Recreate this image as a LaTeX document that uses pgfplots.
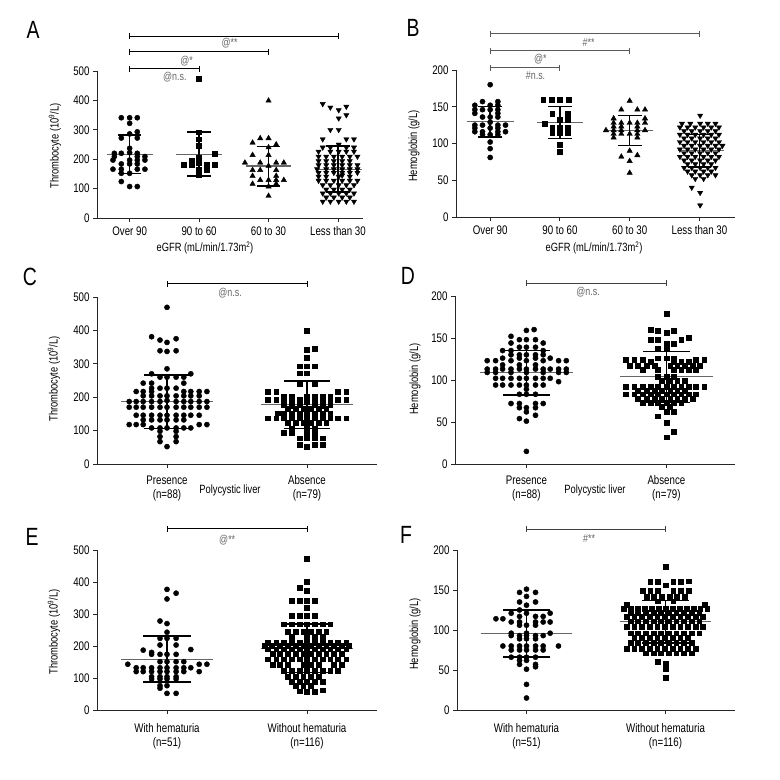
\documentclass[border=0pt]{standalone}
\usepackage{fontspec}
\setmainfont{Liberation Sans}[FakeStretch=0.78]
\usepackage{pgfplots}
\pgfplotsset{compat=1.18}
\pgfplotsset{
  panel/.style={scale only axis, anchor=south west, axis lines=left, clip=false,
    axis line style={-, line width=0.9bp, black!85},
    tick align=outside, major tick length=4bp,
    every tick/.style={black!85, line width=0.9bp},
    tick label style={font=\fontsize{12.5}{14}\selectfont},
    /pgf/number format/assume math mode=true,
    xticklabel style={align=center}, minor tick num=0},
  dotc/.style={only marks, mark=*, mark size=2.6bp, black},
  dots/.style={only marks, mark=square*, mark size=2.4bp, black},
  dott/.style={only marks, mark=triangle*, mark size=3.1bp, black},
  dotv/.style={only marks, mark=triangle*, mark size=3bp, black, mark options={rotate=180}},
  meanl/.style={black!60, line width=1.1bp, mark=none},
  sdl/.style={black, line width=1.5bp, mark=none},
  brk/.style={line width=1bp, mark=|, mark size=3bp, mark options={solid}},
}
\tikzset{sig/.style={font=\fontsize{11.5}{13}\selectfont, text=black!60},
  lab/.style={font=\fontsize{12}{14}\selectfont},
  let/.style={font=\fontsize{25}{27}\selectfont}}
\begin{document}
\begin{tikzpicture}
\useasboundingbox (0,0) rectangle (780bp,780bp);
% ---------------- A ----------------
\begin{axis}[panel, at={(97bp,562bp)}, width=266bp, height=147bp,
  xmin=-0.47, xmax=3.36, ymin=0, ymax=500, ytick={0,100,...,500},
  xtick={0,1,2,3}, xticklabels={Over 90,90 to 60,60 to 30,Less than 30},
  xticklabel style={yshift=-1bp}]
\addplot[dotc] coordinates {(-0.12,341)(0,341)(0.11,341)(0,322)(0.11,293)(0,286)(-0.12,272)(0.11,272)(0,237)
(-0.22,220)(-0.12,220)(0,222)(0.11,220)(-0.22,209)(0.11,209)(0.22,209)(-0.24,197)(0,197)(0.11,197)(0.22,197)
(-0.12,184)(0,184)(0.11,184)(-0.24,166)(-0.12,166)(0.11,166)(0.22,166)(-0.12,152)(0,152)(-0.12,124)(0,107)(0.11,107)};
\addplot[dots] coordinates {(1,473)(1,292)(1,268)(1,245)(1.22,218)(1,205)(0.78,180)(0.89,180)(1,188)(1.11,180)(1.22,180)(1,163)(1.11,163)(1,146)(0.89,195)};
\addplot[dott] coordinates {(2,399)(1.88,271)(2,271)(1.77,256)(2.11,250)(2,240)(1.77,214)(2,214)(1.66,188)(1.88,188)(2.11,188)(2.22,188)
(2,177)(1.77,163)(1.88,163)(2.11,163)(1.77,143)(2.11,143)(1.88,129)(2,129)(2.11,129)(1.77,116)(2.11,116)(2,107)(2.22,129)(2,75)};
\addplot[dotv] coordinates {(2.78,388)(2.89,376)(3.01,367)(3.12,379)(3.01,339)(3.12,350)(2.89,300)(3.01,300)
(2.78,268)(3.12,268)(3.23,268)(3.01,250)(2.78,240)(2.89,240)(3.12,240)(3.23,240)
(2.72,226)(2.89,226)(3.01,226)(3.12,226)(3.23,226)
(2.72,209)(2.83,209)(2.94,209)(3.06,209)(3.17,209)(3.28,209)
(2.72,194)(2.83,194)(2.94,194)(3.06,194)(3.17,194)
(2.72,180)(2.83,180)(2.94,180)(3.06,180)(3.17,180)(3.28,180)
(2.70,166)(2.83,166)(2.94,166)(3.06,166)(3.17,166)(3.28,166)
(2.72,154)(2.83,154)(2.94,154)(3.06,154)(3.17,154)(3.28,154)
(2.72,141)(2.83,141)(3.01,141)(3.06,145)(3.17,141)
(2.72,127)(2.83,127)(2.94,127)(3.06,127)(3.17,127)(3.28,127)
(2.78,112)(2.89,112)(3.01,112)(3.12,112)(3.23,112)
(2.83,97)(2.94,97)(3.06,97)(3.17,97)
(2.78,84)(2.89,84)(3.01,84)(3.12,84)(3.23,84)
(2.83,70)(2.94,70)(3.06,70)(3.17,70)
(2.78,56)(2.89,56)(3.01,56)(3.12,56)(3.23,56)};
\addplot[meanl] coordinates {(-0.33,216)(0.34,216)};
\addplot[meanl] coordinates {(0.67,216)(1.33,216)};
\addplot[meanl] coordinates {(1.67,177)(2.33,177)};
\addplot[meanl] coordinates {(2.67,166)(3.34,166)};
\addplot[sdl] coordinates {(-0.17,152)(0.17,152)};
\addplot[sdl] coordinates {(0,152)(0,282)};
\addplot[sdl] coordinates {(-0.17,282)(0.17,282)};
\addplot[sdl] coordinates {(0.83,142)(1.17,142)};
\addplot[sdl] coordinates {(1,142)(1,293)};
\addplot[sdl] coordinates {(0.83,293)(1.17,293)};
\addplot[sdl] coordinates {(1.83,109)(2.17,109)};
\addplot[sdl] coordinates {(2,109)(2,243)};
\addplot[sdl] coordinates {(1.83,243)(2.17,243)};
\addplot[sdl] coordinates {(2.83,88)(3.17,88)};
\addplot[sdl] coordinates {(3,88)(3,245)};
\addplot[sdl] coordinates {(2.83,245)(3.17,245)};
\addplot[brk, black] coordinates {(0,619)(3,619)};
\addplot[brk, black] coordinates {(0,565)(2,565)};
\addplot[brk, black] coordinates {(0,507)(1,507)};
\node[sig] at (axis cs:1.44,594) {@**};
\node[sig] at (axis cs:0.82,533) {@*};
\node[sig] at (axis cs:0.65,480) {@n.s.};
\end{axis}
% ---------------- B ----------------
\begin{axis}[panel, at={(456bp,563bp)}, width=279bp, height=147bp,
  xmin=-0.49, xmax=3.51, ymin=0, ymax=200, ytick={0,50,...,200},
  xtick={0,1,2,3}, xticklabels={Over 90,90 to 60,60 to 30,Less than 30},
  xticklabel style={yshift=-1bp}]
\addplot[dotc] coordinates {(0,180)(-0.11,157)(0.11,157)(-0.22,152)(0,152)(0.11,152)(-0.22,146)(-0.11,146)(0,146)(0.11,146)
(-0.22,141)(0.11,141)(-0.11,136)(0,136)(0.11,136)(0,129)(-0.22,125)(-0.11,125)(0.11,125)(0.22,125)
(-0.22,121)(0,121)(0.11,121)(-0.22,116)(-0.11,116)(0.11,116)(0.22,116)(-0.11,112)(0,112)(0.11,112)(0,102)(0,93)(0,81)};
\addplot[dots] coordinates {(0.76,160)(0.88,160)(1,160)(1.12,160)(0.89,141)(1.11,141)(1,132)(1.11,132)(0.78,127)
(0.89,121)(1,121)(1.11,121)(0.89,115)(1,115)(1.11,115)(1,98)(1,89)};
\addplot[dott] coordinates {(2,158)(1.88,146)(2.11,146)(2.22,146)(1.77,134)(2.22,134)(1.77,128)(1.88,128)(2,128)(2.11,128)(2.22,128)
(1.77,123)(1.88,123)(2.11,123)(1.66,118)(1.77,118)(1.88,118)(2.11,118)(2.22,118)(1.77,113)(1.88,113)(2,113)(2.11,113)
(1.77,108)(2.11,108)(2,90)(1.88,82)(2.11,84)(2,76)(2,60)};
\addplot[dotv] coordinates {(3.01,138)
(2.75,127)(2.87,127)(3.01,127)(3.12,127)(3.23,127)
(2.72,122)(2.83,122)(2.94,122)(3.06,122)(3.17,122)(3.28,122)
(2.78,117)(2.89,117)(3.01,117)(3.12,117)(3.23,117)
(2.72,112)(2.83,112)(2.94,112)(3.06,112)(3.17,112)(3.28,112)
(2.78,107)(2.89,107)(3.01,107)(3.12,107)(3.23,107)
(2.72,102)(2.83,102)(2.94,102)(3.06,102)(3.17,102)(3.28,102)
(2.78,97)(2.89,97)(3.01,97)(3.12,97)(3.23,97)(3.33,97)
(2.72,92)(2.83,92)(2.94,92)(3.06,92)(3.17,92)(3.28,92)
(2.78,87)(2.89,87)(3.01,87)(3.12,87)(3.23,87)
(2.72,82)(2.83,82)(2.94,82)(3.06,82)(3.17,82)(3.28,82)
(2.78,77)(2.89,77)(3.01,77)(3.12,77)(3.23,77)
(2.83,72)(2.94,72)(3.06,72)(3.17,72)
(2.78,67)(2.89,67)(3.01,67)(3.12,67)(3.23,67)
(2.83,62)(2.94,62)(3.06,62)(3.17,62)
(2.89,57)(3.01,57)(3.12,57)(3.23,57)
(2.94,52)(3.06,52)(2.89,40)(3.01,33)(3.01,16)};
\addplot[meanl] coordinates {(-0.33,130)(0.34,130)};
\addplot[meanl] coordinates {(0.67,128)(1.33,128)};
\addplot[meanl] coordinates {(1.67,118)(2.33,118)};
\addplot[meanl] coordinates {(2.69,90)(3.35,90)};
\addplot[sdl] coordinates {(-0.17,109)(0.17,109)};
\addplot[sdl] coordinates {(0,109)(0,150)};
\addplot[sdl] coordinates {(-0.17,150)(0.17,150)};
\addplot[sdl] coordinates {(0.83,107)(1.17,107)};
\addplot[sdl] coordinates {(1,107)(1,150)};
\addplot[sdl] coordinates {(0.83,150)(1.17,150)};
\addplot[sdl] coordinates {(1.83,97)(2.17,97)};
\addplot[sdl] coordinates {(2,97)(2,138)};
\addplot[sdl] coordinates {(1.83,138)(2.17,138)};
\addplot[sdl] coordinates {(2.83,68)(3.17,68)};
\addplot[sdl] coordinates {(3,68)(3,112)};
\addplot[sdl] coordinates {(2.83,112)(3.17,112)};
\addplot[brk, black!65] coordinates {(0,249)(3,249)};
\addplot[brk, black!65] coordinates {(0,226)(2,226)};
\addplot[brk, black!65] coordinates {(0,203)(1,203)};
\node[sig] at (axis cs:1.41,238) {\#**};
\node[sig] at (axis cs:0.72,215) {@*};
\node[sig] at (axis cs:0.65,192) {\#n.s.};
\end{axis}
% ---------------- C ----------------
\begin{axis}[panel, at={(97bp,316bp)}, width=280bp, height=167bp,
  xmin=-0.5, xmax=1.5, ymin=0, ymax=500, ytick={0,100,...,500},
  xtick={0,1}, xticklabels={{Presence\\(n=88)},{Absence\\(n=79)}},
  xticklabel style={yshift=-4bp}]
\addplot[dotc] coordinates {(0,469)(-0.11,381)(-0.05,371)(0,364)(0.065,375)(-0.05,339)(0,337)(0.065,339)(0,285)
(-0.11,270)(0.17,270)(-0.05,260)(0,260)(0.065,260)(0.12,260)(-0.17,242)(-0.11,242)(0.12,242)
(-0.11,227)(-0.05,227)(0,227)(0.065,227)
(-0.22,217)(-0.17,217)(-0.11,217)(0.12,217)(0.17,217)(0.23,217)(0.285,217)
(-0.17,204)(-0.11,204)(-0.05,204)(0,204)(0.065,204)(0.12,204)(0.17,204)(0.23,204)
(-0.27,187)(-0.22,187)(-0.17,187)(-0.11,187)(-0.05,187)(0,190)(0.065,187)(0.12,187)(0.17,187)(0.23,187)(0.285,187)
(-0.27,170)(-0.22,170)(-0.17,170)(-0.11,170)(-0.05,170)(0,170)(0.065,170)(0.12,170)(0.17,170)(0.23,170)(0.285,170)
(-0.22,146)(-0.17,146)(-0.11,146)(-0.05,146)(0,146)(0.065,146)(0.12,146)(0.17,146)(0.23,146)
(-0.17,132)(-0.11,132)(-0.05,132)(0,132)(0.065,132)(0.12,132)
(-0.27,118)(-0.22,118)(-0.17,118)(0.23,118)(0.285,118)
(-0.11,108)(-0.05,108)(0,108)(0.065,108)(0.12,108)(0.17,108)
(-0.05,98)(0.065,98)(-0.05,82)(0.065,82)(-0.05,67)(0.065,67)(0,52)};
\addplot[dots] coordinates {(1,399)(1,343)(1.055,346)(1,318)(0.945,293)(1,293)(1.055,293)(0.945,272)(1,272)(0.945,239)(1.055,239)
(0.72,217)(0.78,217)(1.22,217)(1.28,217)
(0.835,201)(0.89,201)(1,201)(1.055,201)(1.11,201)(1.165,201)
(0.72,192)(0.78,192)(0.835,192)(0.89,186)(0.945,192)(1,186)(1.055,192)(1.11,186)(1.165,192)(1.22,192)(1.28,192)
(0.835,178)(0.89,174)(0.945,178)(1.055,178)(1.11,174)(1.165,178)
(0.8625,165)(0.9175,165)(0.9725,165)(1.0275,165)(1.0825,165)(1.1375,165)
(0.79,152)(0.835,152)(0.89,152)(0.945,152)(1,152)(1.055,152)(1.11,152)(1.165,152)
(0.72,137)(0.78,137)(0.835,137)(0.89,137)(0.945,137)(1,137)(1.055,137)(1.11,137)(1.165,137)(1.22,137)(1.28,137)
(0.8625,124)(0.9175,124)(0.9725,124)(1.0275,124)(1.0825,124)(1.1375,124)
(0.89,106)(1,106)(1.055,106)(0.835,94)(0.89,94)(1,94)(1.055,94)
(0.945,77)(1,77)(1.055,77)(1.11,77)(0.945,57)(1,52)(1.055,57)(1.11,57)};
\addplot[meanl] coordinates {(-0.33,187)(0.33,187)};
\addplot[meanl] coordinates {(0.67,179)(1.33,179)};
\addplot[sdl] coordinates {(-0.165,106)(0.165,106)};
\addplot[sdl] coordinates {(0,106)(0,267)};
\addplot[sdl] coordinates {(-0.165,267)(0.165,267)};
\addplot[sdl] coordinates {(0.835,107)(1.165,107)};
\addplot[sdl] coordinates {(1,107)(1,249)};
\addplot[sdl] coordinates {(0.835,249)(1.165,249)};
\addplot[brk, black] coordinates {(0,539)(1,539)};
\node[sig] at (axis cs:0.45,511) {@n.s.};
\end{axis}
% ---------------- D ----------------
\begin{axis}[panel, at={(455bp,316bp)}, width=280bp, height=168bp,
  xmin=-0.51, xmax=1.49, ymin=0, ymax=200, ytick={0,50,...,200},
  xtick={0,1}, xticklabels={{Presence\\(n=88)},{Absence\\(n=79)}},
  xticklabel style={yshift=-4bp}]
\addplot[dotc] coordinates {(0,159)(0.055,160)(-0.11,152)(-0.05,148)(0,148)(0.065,148)(-0.11,144)(0.12,144)
(-0.05,139)(0,139)(0.065,139)(-0.17,135)(-0.11,135)(0.12,135)
(-0.11,130)(-0.05,130)(0,130)(0.065,130)(0.12,130)
(-0.17,126)(-0.05,126)(0.065,126)(0.17,126)
(-0.28,123)(-0.22,123)(-0.11,123)(0,123)(0.12,123)(0.23,123)(0.285,123)
(-0.17,118)(-0.05,118)(0.065,118)
(-0.28,113)(-0.22,113)(-0.17,113)(-0.11,113)(-0.05,113)(0,113)(0.065,113)(0.12,113)(0.17,113)(0.23,113)(0.285,113)
(-0.28,109)(-0.22,109)(-0.11,109)(0,109)(0.12,109)(0.23,109)(0.285,109)
(-0.22,102)(-0.17,102)(-0.11,102)(-0.05,102)(0,102)(0.065,102)(0.12,102)(0.17,102)
(0.23,98)(-0.22,94)(-0.17,94)(-0.11,94)(-0.05,94)(0,94)(0.065,94)(0.12,94)
(0,89)(-0.05,83)(0,83)(0.065,83)(-0.11,72)(-0.05,72)(0.065,72)(0.12,72)
(-0.05,67)(0,67)(0.065,67)(0,62)(0.065,58)(-0.05,54)(0,51)(0,15)};
\addplot[dots] coordinates {(1,179)(0.89,160)(0.94,159)(1.05,159)(1,156)(0.89,148)(0.94,148)(1.105,148)(1.16,150)
(1,143)(1.05,143)(0.94,137)(1,137)(0.94,126)(1,126)(1.05,126)
(0.71,124)(0.77,124)(0.83,124)(0.89,122)(1.05,122)(1.105,122)(1.16,122)(1.21,124)(1.27,124)
(0.7375,117)(0.7975,117)(0.8575,117)(0.9175,117)(1.0275,117)(1.0775,117)(1.1325,117)(1.1875,117)(1.2375,117)
(0.83,112)(0.94,112)(1.05,112)(1.105,112)(1.16,112)(1.21,112)
(0.94,104)(1,104)(1.05,104)(0.9675,99)(1.0225,99)(1.0775,99)(1.1325,99)
(0.71,92)(0.77,92)(0.83,92)(0.89,92)(0.94,92)(1,92)(1.05,92)(1.105,92)(1.16,92)(1.21,92)(1.27,92)
(0.7975,87)(0.8575,87)(0.9175,87)(0.9675,87)(1.0275,87)(1.0775,87)(1.1325,87)
(0.71,83)(0.77,83)(0.83,83)(0.89,83)(0.94,83)(1,83)(1.05,83)(1.105,83)(1.16,83)(1.21,83)
(0.7975,78)(0.8575,78)(0.9175,78)(0.9675,78)(1.0275,78)(1.0775,78)(1.1325,78)(1.1875,78)
(0.83,73)(0.89,73)(0.94,73)(1,73)(1.05,73)(1.105,73)
(0.9675,68)(1.0225,68)(1,62)(1.05,62)(0.94,57)(1,49)(1.05,38)(1,32)};
\addplot[meanl] coordinates {(-0.33,109)(0.33,109)};
\addplot[meanl] coordinates {(0.67,104)(1.33,104)};
\addplot[sdl] coordinates {(-0.165,82)(0.165,82)};
\addplot[sdl] coordinates {(0,82)(0,135)};
\addplot[sdl] coordinates {(-0.165,135)(0.165,135)};
\addplot[sdl] coordinates {(0.835,73)(1.165,73)};
\addplot[sdl] coordinates {(1,73)(1,134)};
\addplot[sdl] coordinates {(0.835,134)(1.165,134)};
\addplot[brk, black!75] coordinates {(0,215)(1,215)};
\node[sig] at (axis cs:0.44,204) {@n.s.};
\end{axis}
% ---------------- E ----------------
\begin{axis}[panel, at={(97bp,70bp)}, width=280bp, height=160bp,
  xmin=-0.5, xmax=1.5, ymin=0, ymax=500, ytick={0,100,...,500},
  xtick={0,1}, xticklabels={{With hematuria\\(n=51)},{Without hematuria\\(n=116)}},
  xticklabel style={yshift=-6bp}]
\addplot[dotc] coordinates {(0,377)(0.065,365)(0,347)(-0.05,278)(0,270)(0,243)(-0.05,224)(0,224)(0.065,224)
(-0.05,203)(0.065,203)(-0.17,187)(0.17,189)(-0.11,180)(-0.11,174)(-0.05,174)(0,174)(0.065,174)
(-0.05,151)(0,151)(0.065,151)(0.12,151)(-0.28,143)(0.23,143)(0.285,143)
(-0.22,132)(-0.17,132)(-0.11,132)(-0.05,132)(0,132)(0.065,132)(0.12,132)(0.17,132)
(-0.22,120)(-0.17,120)(-0.11,120)(-0.05,120)(0,120)(0.065,120)(0.12,120)(0.23,120)
(-0.11,104)(-0.05,104)(0,104)(0.065,104)(-0.11,97)(-0.05,97)(0,97)(0.065,97)
(-0.05,76)(0,76)(-0.05,68)(0,52)(0.065,52)};
\addplot[dots] coordinates {(1,472)(1,401)(0.945,382)(1,372)(0.89,341)(0.945,341)(1,341)(1.055,341)(1,320)
(0.89,295)(0.945,295)(1,295)(1.055,295)
(0.835,268)(0.89,268)(0.945,268)(1,268)(1.055,268)(1.11,268)(1.165,268)
(0.8625,245)(0.9175,245)(0.9725,245)(1.0275,245)(1.0825,245)(1.1375,245)
(0.89,230)(1,230)(1.055,230)(1.11,230)
(0.72,211)(0.78,211)(0.835,211)(0.89,211)(0.945,211)(1,211)(1.055,211)(1.11,211)(1.165,211)(1.22,211)(1.28,211)
(0.70,200)(0.75,200)(0.8075,200)(0.8625,200)(0.9175,200)(0.9725,200)(1.0275,200)(1.0825,200)(1.1375,200)(1.1925,200)(1.2475,200)(1.30,200)
(0.72,190)(0.78,190)(0.835,190)(0.89,190)(0.945,190)(1,190)(1.055,190)(1.11,190)(1.165,190)(1.22,190)(1.28,190)
(0.7525,177)(0.8075,177)(0.8625,177)(0.9175,177)(0.9725,177)(1.0275,177)(1.0825,177)(1.1375,177)(1.1925,177)(1.2475,177)
(0.72,159)(0.78,159)(0.835,159)(0.89,159)(0.945,159)(1,159)(1.055,159)(1.11,159)(1.165,159)(1.22,159)(1.28,159)
(0.7525,142)(0.8075,142)(0.8625,142)(0.9725,142)(1.0275,142)(1.0825,142)(1.1925,142)(1.2475,142)
(0.835,122)(0.89,122)(0.945,122)(1,122)(1.055,122)(1.11,122)(1.165,122)(1.22,122)
(0.8625,104)(0.9175,104)(0.9725,104)(1.0275,104)(1.0825,104)
(0.89,89)(0.945,89)(1,89)(1.055,89)(1.11,89)
(0.9175,76)(0.9725,76)(1.0275,76)(0.945,59)(1,57)(1.055,57)(1.11,62)};
\addplot[meanl] coordinates {(-0.33,159)(0.33,159)};
\addplot[meanl] coordinates {(0.67,193)(1.33,193)};
\addplot[sdl] coordinates {(-0.17,88)(0.17,88)};
\addplot[sdl] coordinates {(0,88)(0,232)};
\addplot[sdl] coordinates {(-0.17,232)(0.17,232)};
\addplot[sdl] coordinates {(0.83,117)(1.17,117)};
\addplot[sdl] coordinates {(1,117)(1,268)};
\addplot[sdl] coordinates {(0.83,268)(1.17,268)};
\addplot[brk, black] coordinates {(0,566)(1,566)};
\node[sig] at (axis cs:0.43,531) {@**};
\end{axis}
% ---------------- F ----------------
\begin{axis}[panel, at={(457bp,70bp)}, width=278bp, height=160bp,
  xmin=-0.5, xmax=1.5, ymin=0, ymax=200, ytick={0,50,...,200},
  xtick={0,1}, xticklabels={{With hematuria\\(n=51)},{Without hematuria\\(n=116)}},
  xticklabel style={yshift=-6bp}]
\addplot[dotc] coordinates {(0,151)(-0.05,147)(0.065,147)(0,142)(-0.05,135)(0.065,135)(0,131)(-0.05,125)
(-0.11,121)(0,121)(0.17,121)(-0.05,117)(0.065,117)(0.12,117)(-0.22,114)(-0.17,114)
(-0.11,110)(-0.05,110)(0.065,110)(0.12,110)(0.17,110)(-0.05,106)(0,106)(0.065,106)
(-0.11,96)(0,96)(0.17,96)(-0.11,93)(-0.05,93)(0,93)(0.065,93)(0.12,93)(-0.05,89)(0,89)(0.065,89)
(-0.17,80)(-0.11,80)(-0.05,80)(0,80)(0.065,80)(0.12,80)(0.23,80)
(-0.11,75)(-0.05,75)(0,75)(0.065,75)(0.12,75)
(-0.11,66)(-0.05,66)(0,66)(0.065,66)(-0.05,62)(0,62)(-0.05,57)(0.065,57)(0,51)(0.065,54)(0,32)(0,15)};
\addplot[dots] coordinates {(1,179)(0.89,160)(0.945,160)(1.055,160)(1.11,160)(1.165,161)(1,156)
(0.835,149)(0.89,149)(0.945,149)(1.055,149)(1.11,149)(1.165,149)
(0.8625,142)(0.9175,142)(0.9725,142)(1.0275,142)(1.0825,142)(1.1375,142)
(0.945,136)(1.055,136)(0.72,132)(1.28,132)
(0.70,127)(0.75,127)(0.80,127)(0.85,127)(0.90,127)(0.95,127)(1,127)(1.05,127)(1.10,127)(1.15,127)(1.20,127)(1.25,127)(1.30,127)
(0.7475,122)(0.8025,122)(0.8575,122)(0.9125,122)(0.9675,122)(1.0225,122)(1.0775,122)(1.1325,122)(1.1875,122)(1.2425,122)
(0.72,117)(0.775,117)(0.83,117)(0.885,117)(0.94,117)(0.995,117)(1.05,117)(1.105,117)(1.16,117)(1.215,117)(1.27,117)
(0.7475,111)(0.8025,111)(0.8575,111)(0.9125,111)(0.9675,111)(1.0225,111)(1.0775,111)(1.1325,111)(1.1875,111)(1.2425,111)
(0.72,104)(0.775,104)(0.83,104)(0.885,104)(0.94,104)(0.995,104)(1.05,104)(1.105,104)(1.16,104)(1.215,104)(1.27,104)
(0.7475,96)(0.8025,96)(0.8575,96)(0.9125,96)(0.9675,96)(1.0225,96)(1.0775,96)(1.1325,96)(1.1875,96)(1.2425,96)
(0.775,90)(0.83,90)(0.885,90)(0.94,90)(0.995,90)(1.05,90)(1.105,90)(1.16,90)
(0.7475,84)(0.8025,84)(0.8575,84)(0.9125,84)(0.9675,84)(1.0225,84)(1.0775,84)(1.1325,84)(1.1875,84)
(0.72,77)(0.775,77)(0.83,77)(0.885,77)(0.94,77)(0.995,77)(1.05,77)(1.105,77)(1.16,77)(1.215,77)
(0.8575,71)(0.9125,71)(0.9675,71)(1.0225,71)(1.0775,71)(1.1325,71)(1.1875,71)
(0.945,60)(1,58)(1,51)(1,40)};
\addplot[meanl] coordinates {(-0.33,96)(0.33,96)};
\addplot[meanl] coordinates {(0.67,111)(1.33,111)};
\addplot[sdl] coordinates {(-0.17,66)(0.17,66)};
\addplot[sdl] coordinates {(0,66)(0,125)};
\addplot[sdl] coordinates {(-0.17,125)(0.17,125)};
\addplot[sdl] coordinates {(0.83,84)(1.17,84)};
\addplot[sdl] coordinates {(1,84)(1,137)};
\addplot[sdl] coordinates {(0.83,137)(1.17,137)};
\addplot[brk, black!75] coordinates {(0,226)(1,226)};
\node[sig] at (axis cs:0.45,214) {\#**};
\end{axis}
% ---------------- labels ----------------
\node[lab, rotate=90] at (55bp,634bp) {Thrombocyte (10\textsuperscript{9}/L)};
\node[lab, rotate=90] at (414bp,634bp) {Hemoglobin (g/L)};
\node[lab, rotate=90] at (54bp,401bp) {Thrombocyte (10\textsuperscript{9}/L)};
\node[lab, rotate=90] at (415bp,401bp) {Hemoglobin (g/L)};
\node[lab, rotate=90] at (54bp,148bp) {Thrombocyte (10\textsuperscript{9}/L)};
\node[lab, rotate=90] at (415bp,146bp) {Hemoglobin (g/L)};
\node[lab] at (205bp,532bp) {eGFR (mL/min/1.73m\textsuperscript{2})};
\node[lab] at (594bp,532bp) {eGFR (mL/min/1.73m\textsuperscript{2})};
\node[lab] at (230bp,290bp) {Polycystic liver};
\node[lab] at (595bp,290bp) {Polycystic liver};
\node[let] at (33bp,750bp) {A};
\node[let] at (413bp,752bp) {B};
\node[let] at (30bp,503bp) {C};
\node[let] at (408bp,504bp) {D};
\node[let] at (32bp,243bp) {E};
\node[let] at (406bp,245bp) {F};
\end{tikzpicture}
\end{document}
